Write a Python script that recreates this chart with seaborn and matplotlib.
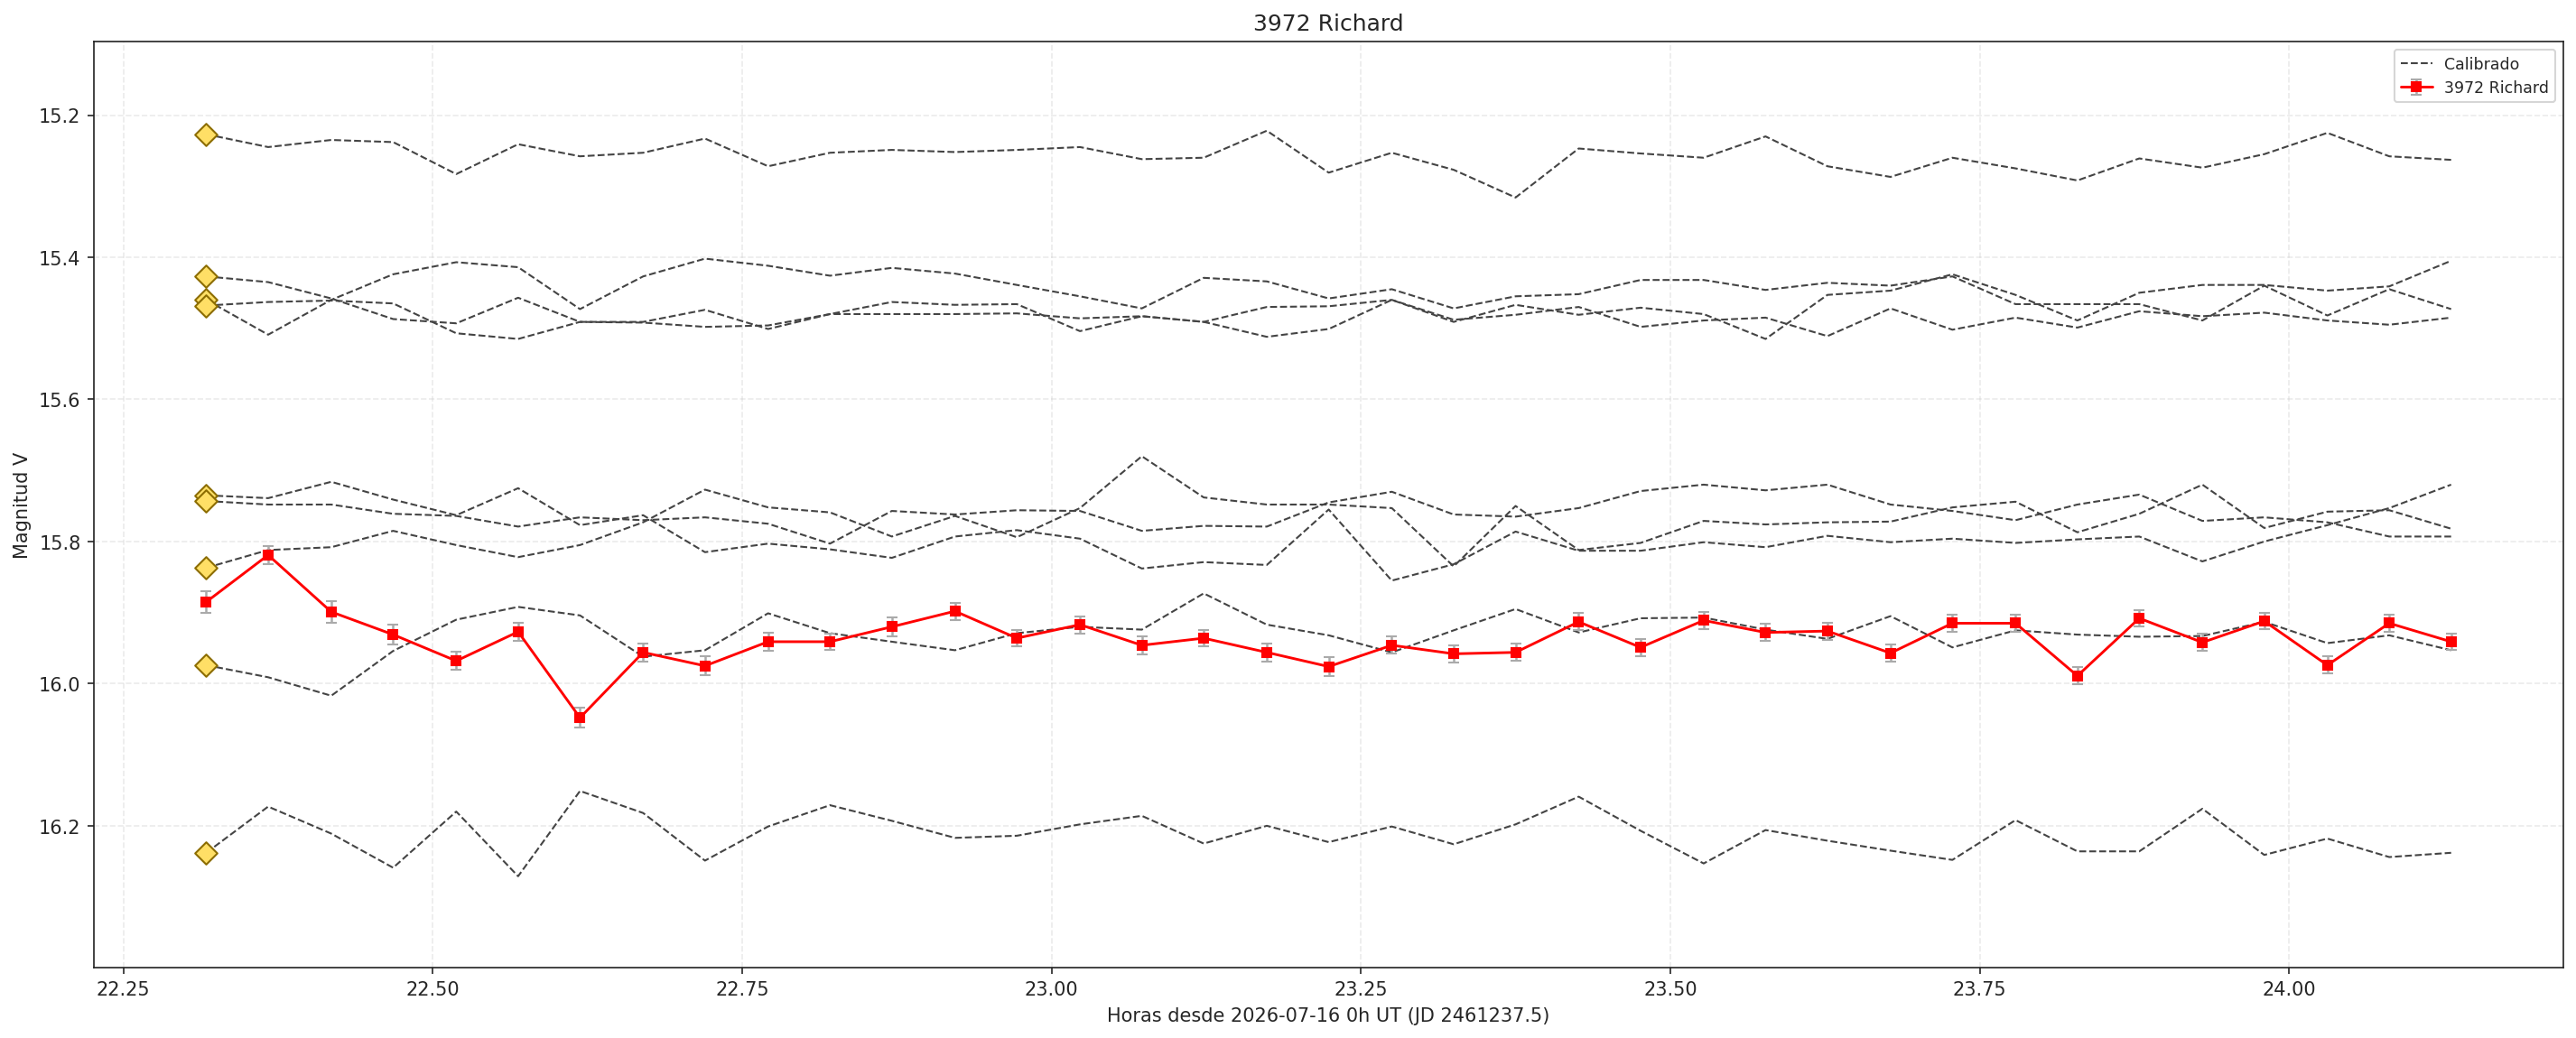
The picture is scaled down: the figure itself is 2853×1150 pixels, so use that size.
import numpy as np
import pandas as pd
import matplotlib
matplotlib.use("Agg")
import matplotlib.pyplot as plt
import seaborn as sns

# tiempos (horas UT)
horas = [22.317, 22.367, 22.418, 22.468, 22.519, 22.569, 22.619, 22.670, 22.720,
         22.771, 22.821, 22.871, 22.922, 22.972, 23.023, 23.073, 23.123, 23.174,
         23.224, 23.275, 23.325, 23.375, 23.426, 23.476, 23.527, 23.577, 23.627,
         23.678, 23.728, 23.779, 23.829, 23.879, 23.930, 23.980, 24.031, 24.081,
         24.131]

# estrellas de comparacion calibradas
comp1 = [15.227, 15.245, 15.235, 15.238, 15.283, 15.241, 15.258, 15.253, 15.233,
         15.272, 15.253, 15.249, 15.252, 15.249, 15.245, 15.262, 15.260, 15.222,
         15.281, 15.253, 15.277, 15.316, 15.247, 15.254, 15.260, 15.230, 15.272,
         15.287, 15.260, 15.275, 15.292, 15.261, 15.274, 15.255, 15.225, 15.258,
         15.263]
comp2 = [15.427, 15.435, 15.458, 15.487, 15.493, 15.457, 15.491, 15.491, 15.474,
         15.501, 15.480, 15.463, 15.467, 15.466, 15.504, 15.483, 15.491, 15.512,
         15.501, 15.460, 15.491, 15.467, 15.481, 15.471, 15.480, 15.515, 15.453,
         15.447, 15.424, 15.453, 15.489, 15.450, 15.439, 15.439, 15.447, 15.441,
         15.405]
comp3 = [15.460, 15.509, 15.460, 15.424, 15.407, 15.414, 15.473, 15.427, 15.402,
         15.412, 15.426, 15.415, 15.423, 15.439, 15.455, 15.472, 15.429, 15.434,
         15.458, 15.445, 15.472, 15.455, 15.452, 15.432, 15.432, 15.446, 15.436,
         15.440, 15.427, 15.466, 15.466, 15.466, 15.489, 15.440, 15.482, 15.445,
         15.473]
comp4 = [15.468, 15.463, 15.461, 15.465, 15.507, 15.515, 15.491, 15.492, 15.498,
         15.496, 15.480, 15.480, 15.480, 15.479, 15.486, 15.483, 15.491, 15.470,
         15.469, 15.460, 15.488, 15.481, 15.470, 15.498, 15.489, 15.485, 15.511,
         15.472, 15.502, 15.485, 15.499, 15.476, 15.483, 15.478, 15.489, 15.495,
         15.485]
comp5 = [15.735, 15.739, 15.716, 15.741, 15.763, 15.725, 15.777, 15.763, 15.815,
         15.803, 15.811, 15.823, 15.793, 15.784, 15.796, 15.838, 15.829, 15.833,
         15.755, 15.855, 15.832, 15.786, 15.813, 15.813, 15.801, 15.808, 15.792,
         15.801, 15.796, 15.802, 15.797, 15.793, 15.828, 15.800, 15.777, 15.753,
         15.720]
comp6 = [15.743, 15.748, 15.748, 15.761, 15.764, 15.779, 15.766, 15.770, 15.766,
         15.775, 15.803, 15.757, 15.762, 15.756, 15.757, 15.785, 15.778, 15.779,
         15.745, 15.730, 15.762, 15.765, 15.753, 15.729, 15.720, 15.728, 15.720,
         15.748, 15.757, 15.770, 15.748, 15.734, 15.771, 15.766, 15.773, 15.793,
         15.793]
comp7 = [15.837, 15.812, 15.808, 15.785, 15.805, 15.822, 15.805, 15.773, 15.727,
         15.752, 15.759, 15.793, 15.764, 15.794, 15.753, 15.680, 15.738, 15.748,
         15.748, 15.753, 15.835, 15.750, 15.812, 15.802, 15.771, 15.776, 15.773,
         15.772, 15.752, 15.744, 15.787, 15.761, 15.720, 15.781, 15.758, 15.756,
         15.782]
comp8 = [15.974, 15.991, 16.017, 15.954, 15.910, 15.892, 15.904, 15.962, 15.953,
         15.901, 15.929, 15.941, 15.953, 15.929, 15.920, 15.924, 15.873, 15.917,
         15.932, 15.956, 15.925, 15.895, 15.928, 15.908, 15.907, 15.924, 15.937,
         15.905, 15.949, 15.925, 15.931, 15.934, 15.933, 15.913, 15.943, 15.932,
         15.953]
comp9 = [16.238, 16.173, 16.211, 16.259, 16.180, 16.271, 16.151, 16.182, 16.249,
         16.201, 16.171, 16.193, 16.217, 16.214, 16.198, 16.186, 16.225, 16.200,
         16.223, 16.201, 16.226, 16.198, 16.159, 16.207, 16.253, 16.206, 16.221,
         16.235, 16.248, 16.192, 16.236, 16.236, 16.176, 16.241, 16.218, 16.244,
         16.238]

# asteroide
richard = [15.885, 15.819, 15.899, 15.931, 15.968, 15.927, 16.048, 15.956, 15.975,
           15.941, 15.941, 15.920, 15.898, 15.936, 15.917, 15.946, 15.936, 15.956,
           15.976, 15.946, 15.958, 15.956, 15.913, 15.949, 15.911, 15.928, 15.926,
           15.957, 15.915, 15.915, 15.989, 15.908, 15.942, 15.912, 15.974, 15.915,
           15.941]
richard_err = [0.015, 0.013, 0.015, 0.014, 0.013, 0.013, 0.014, 0.013, 0.013,
               0.013, 0.012, 0.013, 0.012, 0.012, 0.012, 0.013, 0.012, 0.013,
               0.013, 0.012, 0.012, 0.012, 0.012, 0.012, 0.012, 0.012, 0.012,
               0.012, 0.012, 0.012, 0.012, 0.012, 0.012, 0.011, 0.012, 0.012,
               0.012]

comps = [comp1, comp2, comp3, comp4, comp5, comp6, comp7, comp8, comp9]

# tabla larga para seaborn
df = pd.concat(
    [pd.DataFrame({'hora': horas, 'mag': c, 'estrella': k}) for k, c in enumerate(comps)],
    ignore_index=True,
)
primeros = df[df['hora'] == horas[0]]

sns.set_style("ticks")
plt.rcParams['font.family'] = ['DejaVu Sans']

fig, ax = plt.subplots(figsize=(19.02, 7.673), dpi=150)

sns.lineplot(data=df, x='hora', y='mag', units='estrella', estimator=None,
             color='#444444', linestyle='--', linewidth=1.0, ax=ax,
             label='Calibrado', legend=False)
sns.scatterplot(data=primeros, x='hora', y='mag', marker='D', s=70,
                color='#FFDF66', edgecolor='#8C6D00', linewidth=1.0,
                zorder=5, ax=ax, legend=False)

ax.errorbar(horas, richard, yerr=richard_err, color='red', linewidth=1.4,
            marker='s', markersize=5, ecolor='#aaaaaa', elinewidth=1.2,
            capsize=3, label='3972 Richard', zorder=6)

ax.set_ylim(16.3995, 15.0965)
ax.grid(True, linestyle='--', alpha=0.4)
ax.set_title('3972 Richard', fontsize=12)
ax.set_xlabel('Horas desde 2026-07-16 0h UT (JD 2461237.5)')
ax.set_ylabel('Magnitud V')

# una entrada por etiqueta
handles, labels = ax.get_legend_handles_labels()
unicos = {}
for h, l in zip(handles, labels):
    unicos.setdefault(l, h)
ax.legend(list(unicos.values()), list(unicos.keys()), loc='upper right', fontsize='small')

for s in ax.spines.values():
    s.set_color('#222222')

fig.subplots_adjust(left=0.0365, right=0.9951, bottom=0.0678, top=0.9592)
fig.savefig('out.png', dpi=150)
